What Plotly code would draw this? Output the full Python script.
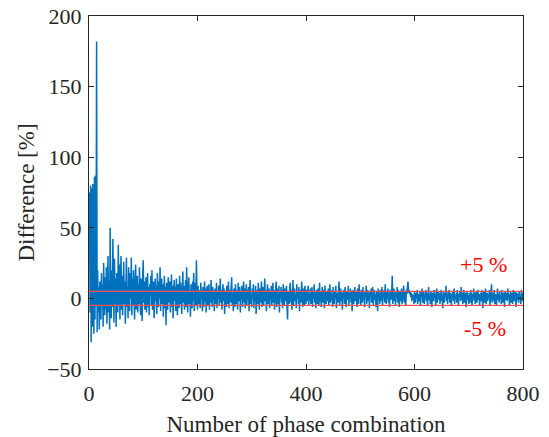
import plotly.graph_objects as go

# Difference [%] for phase combinations 1..800
seg_001_020 = [75, -10, 80, -31, 78, -20, 81, 10, -25, 86, -15, 87, -5, 182, -24, 20, -10, 8, -22, 12]
seg_021_100 = [
    3, -15, 18, -5, 10, -20, 25, 2, -12, 15,
    -8, 22, -18, 6, 30, -10, 12, -22, 50, 5,
    -14, 20, -6, 42, 8, -17, 28, -3, 14, -20,
    18, 2, -10, 38, -5, 24, -15, 10, 30, -8,
    16, -12, 6, 26, -4, 12, -18, 20, 29, -6,
    8, -14, 22, 4, -9, 18, 0, 29, -12, 14,
    -5, 20, 6, -15, 12, 24, -8, 3, 16, -10,
    10, -4, 22, 2, -12, 14, 5, -16, 18, 27]
seg_101_200 = [
    -3, 12, -8, 6, 15, -10, 4, 18, -6, 8,
    -12, 10, 2, 16, -5, 20, -8, 4, 12, -14,
    6, 14, -2, 9, -11, 18, 3, -6, 12, 0,
    22, -9, 7, 14, -4, 10, -13, 5, 16, -7,
    8, -19, 11, 3, -8, 15, 6, -3, 12, -10,
    4, 17, -6, 9, -14, 6, 13, -2, 8, -9,
    14, 2, -12, 10, 5, -7, 16, -4, 11, 0,
    -11, 7, 19, -3, 9, -8, 4, 13, -6, 22,
    2, -10, 8, 15, -4, 6, -13, 10, 3, -7,
    12, -2, 18, -9, 6, 11, -5, 27, 4, -8]
seg_201_400 = [
    9, -4, 6, 2, -7, 11, 0, 5, -9, 8,
    3, -6, 12, -2, 7, -10, 4, 9, -5, 1,
    10, -8, 6, -3, 13, 2, -6, 8, -1, 5,
    -9, 7, 3, -4, 11, -7, 5, 0, 9, -5,
    2, 14, -3, 6, -8, 4, 10, -2, 7, -11,
    5, 1, -6, 9, 3, -4, 12, -7, 6, 0,
    -3, 8, 15, -5, 4, -9, 7, 2, -6, 10,
    1, -4, 6, -8, 11, 3, -2, 8, -10, 5,
    0, 9, -6, 4, 12, -3, 7, -7, 2, 10,
    -5, 6, -1, 8, -9, 4, 13, -4, 3, -6,
    7, 0, 10, -7, 5, -2, 9, -11, 4, 6,
    -4, 11, 2, -8, 7, -3, 5, 12, -6, 1,
    8, -5, 3, 14, -2, 6, -9, 4, 10, -4,
    2, 7, -7, 5, -1, 9, -5, 3, 11, -3,
    6, -8, 4, 0, 12, -6, 7, 2, -4, 9,
    -10, 5, 1, 8, -3, 6, -7, 10, 3, -5,
    7, -2, 4, 9, -6, -15, 5, 1, -4, 8,
    11, -3, 6, -8, 2, 13, -5, 4, 7, -2,
    3, -7, 10, 0, 5, -4, 8, -9, 6, 2,
    -3, 12, 4, -6, 7, 1, -5, 9, 3, -4]
seg_401_600 = [
    6, -2, 4, 9, -5, 3, -1, 7, -4, 2,
    8, -6, 5, 0, 10, -3, 4, -7, 6, 1,
    -4, 7, 3, -5, 11, -2, 5, -6, 4, 8,
    -3, 2, 6, -7, 9, 0, -4, 5, 3, -2,
    7, -5, 4, 10, -3, 6, -1, 3, -6, 8,
    2, -4, 5, 0, 9, -7, 4, 1, -3, 6,
    12, -5, 3, 7, -2, 5, -8, 4, 1, 6,
    -4, 8, 2, -6, 5, 3, -1, 9, -5, 4,
    0, 7, -3, 5, -9, 2, 6, -4, 3, 8,
    -2, 5, 1, -6, 7, 3, -4, 10, 0, 4,
    -5, 6, 2, -3, 8, -1, 4, -6, 5, 2,
    9, -4, 3, 6, -2, 4, -7, 5, 1, 7,
    -3, 4, 8, -5, 2, 6, -1, 3, -6, 5,
    2, -9, 7, 0, 4, -4, 6, 3, -2, 8,
    -5, 4, 1, 6, -3, 10, 2, -4, 5, 0,
    7, -3, 4, -6, 6, 2, -1, 5, 16, -4,
    3, 7, -2, 5, -5, 4, 1, 8, -3, 6,
    0, -6, 5, 3, -2, 7, -4, 4, 2, 9,
    -3, 5, 1, -5, 6, 3, 8, 12, 4, 6,
    3, 5, 1, 4, -2, 3, 0, 2, -4, 5]
seg_601_800 = [
    2, -3, 4, 0, 6, -4, 3, 1, -2, 5,
    -5, 4, 2, 7, -3, 1, 5, -4, 3, 0,
    6, -2, 4, -5, 2, 8, -1, 3, -4, 5,
    1, -6, 4, 2, -2, 6, 0, 3, -5, 4,
    7, -3, 2, 5, -1, 4, -4, 1, 6, -2,
    3, -7, 5, 2, -3, 4, 1, 9, -2, 3,
    -4, 5, 0, 6, -3, 2, 4, -5, 3, 1,
    5, -2, 7, -4, 2, 0, 4, -3, 6, 1,
    -5, 3, 2, 5, -2, 8, -1, 4, -4, 2,
    6, -3, 1, 4, -6, 3, 5, -1, 2, -4,
    4, 1, -3, 6, 2, -5, 3, 0, 7, -2,
    4, -4, 1, 5, -3, 2, 6, -1, 3, -5,
    2, 4, -2, 6, 1, -7, 3, 5, -3, 2,
    7, -4, 1, 4, -2, 3, 0, 6, -5, 2,
    5, 10, -3, 4, 1, -2, 6, -4, 3, 2,
    -5, 4, 7, -1, 3, -3, 5, 0, 2, -4,
    6, 1, -3, 4, 2, -6, 5, 3, -1, 4,
    -2, 7, 0, 3, -5, 2, 5, -3, 4, 1,
    -4, 6, 2, -2, 3, 5, -6, 1, 4, -1,
    3, -3, 5, 0, 2, -4, 6, 1, -2, 4]

difference = seg_001_020 + seg_021_100 + seg_101_200 + seg_201_400 + seg_401_600 + seg_601_800
combination = list(range(1, len(difference) + 1))

band_levels = [5, -5]
band_labels = ["+5 %", "-5 %"]
label_x = [728, 730]
label_y = [24, -21]

x_ticks = [0, 200, 400, 600, 800]
y_ticks = [-50, 0, 50, 100, 150, 200]

FONT = "Liberation Serif"
AX = "#262626"
FS_TICK = 22
FS_TITLE = 23

fig = go.Figure()
fig.add_trace(go.Scatter(x=combination, y=difference, mode="lines",
                         line=dict(color="#0072BD", width=1.5), showlegend=False,
                         hoverinfo="skip"))
for lv in band_levels:
    fig.add_trace(go.Scatter(x=[0, 800], y=[lv, lv], mode="lines",
                             line=dict(color="#F05050", width=1.2), showlegend=False,
                             hoverinfo="skip"))
for t, xx, yy in zip(band_labels, label_x, label_y):
    fig.add_annotation(x=xx, y=yy, text=t, showarrow=False,
                       font=dict(family=FONT, size=FS_TICK, color="#FF0000"))

axis_common = dict(showline=True, linecolor=AX, linewidth=1, mirror="ticks",
                   ticks="inside", ticklen=5, tickcolor=AX, showgrid=False,
                   zeroline=False, automargin=False, ticklabeloverflow="allow",
                   tickfont=dict(family=FONT, size=FS_TICK, color=AX),
                   title_font=dict(family=FONT, size=FS_TITLE, color=AX))
fig.update_xaxes(range=[0, 800], tickvals=x_ticks, title_text="Number of phase combination",
                 title_standoff=10, ticklabelstandoff=5, **axis_common)
fig.update_yaxes(range=[-50, 200], tickvals=y_ticks, title_text="Difference [%]",
                 title_standoff=6, ticklabelstandoff=2, **axis_common)
fig.update_layout(width=549, height=437, margin=dict(l=89, r=26, t=16, b=68),
                  paper_bgcolor="white", plot_bgcolor="white",
                  font=dict(family=FONT, size=FS_TICK, color=AX))
fig.write_html("out.html", config={"displayModeBar": False},
               post_script="document.body.style.margin='0';")
